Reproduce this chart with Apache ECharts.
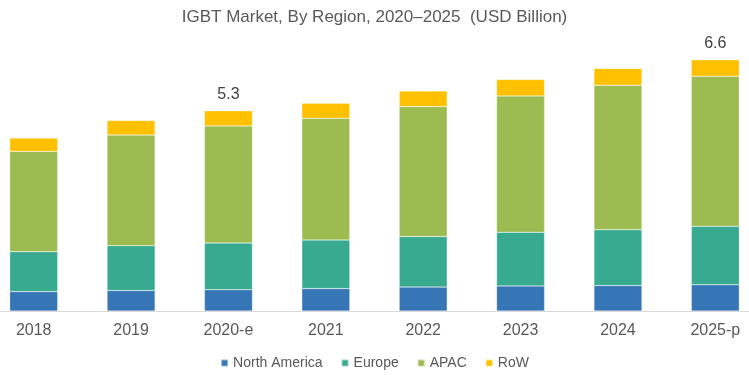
<!DOCTYPE html>
<html>
<head>
<meta charset="utf-8">
<script src="https://cdn.jsdelivr.net/npm/echarts@6/dist/echarts.min.js"></script>
<style>
  html, body { margin: 0; padding: 0; background: #fff; overflow: hidden; }
  /* chart is a bit wider than the window so the outer bars sit near the edges */
  #chart { width: 779px; height: 375px; margin-left: -15px; }
</style>
</head>
<body>
<div id="chart"></div>
<script>
const years = ['2018', '2019', '2020-e', '2021', '2022', '2023', '2024', '2025-p']
const northAmerica = [0.51, 0.54, 0.56, 0.59, 0.63, 0.66, 0.67, 0.69]
const europe = [1.05, 1.18, 1.23, 1.28, 1.33, 1.41, 1.47, 1.54]
const apac = [2.64, 2.91, 3.08, 3.20, 3.42, 3.59, 3.80, 3.95]
const row = [0.35, 0.38, 0.40, 0.40, 0.41, 0.43, 0.44, 0.43]
const totalLabels = ['', '', '5.3', '', '', '', '', '6.6']

const chart = echarts.init(document.getElementById('chart'))

// shared look for every stacked segment
function seg(name, data, color) {
  return {
    name: name,
    type: 'bar',
    stack: 'total',
    data: data,
    barWidth: 48,
    itemStyle: {
      color: color,
      borderColor: 'rgba(255,255,255,0.5)',
      borderWidth: 0.5
    }
  }
}

const rowSeries = seg('RoW', row, '#FFC000')
rowSeries.label = {
  show: true,
  position: 'top',
  distance: 8,
  fontFamily: 'Liberation Sans',
  fontSize: 16,
  color: '#404040',
  formatter(p) {
    return totalLabels[p.dataIndex]
  }
}

chart.setOption({
  animation: false,
  title: {
    text: 'IGBT Market, By Region, 2020–2025  (USD Billion)',
    left: 'center',
    top: 4,
    textStyle: {
      fontFamily: 'Liberation Sans',
      fontSize: 17,
      fontWeight: 'normal',
      color: '#595959'
    }
  },
  legend: {
    top: 351,
    left: 'center',
    icon: 'rect',
    itemWidth: 7,
    itemHeight: 7,
    itemGap: 18,
    textStyle: {
      fontFamily: 'Liberation Sans',
      fontSize: 14,
      color: '#595959'
    },
    data: ['North America', 'Europe', 'APAC', 'RoW']
  },
  grid: {
    left: 0,
    right: 0,
    top: 45,
    bottom: 64
  },
  xAxis: {
    type: 'category',
    data: years,
    axisLine: {
      lineStyle: { color: '#d9d9d9' }
    },
    axisTick: {
      length: 5,
      lineStyle: { color: '#d9d9d9' }
    },
    axisLabel: {
      margin: 12,
      fontFamily: 'Liberation Sans',
      fontSize: 16,
      color: '#595959'
    }
  },
  yAxis: {
    type: 'value',
    min: 0,
    max: 7,
    show: false,
    splitLine: { show: false }
  },
  series: [
    seg('North America', northAmerica, '#3675B6'),
    seg('Europe', europe, '#38AA90'),
    seg('APAC', apac, '#9CBB51'),
    rowSeries
  ]
})
</script>
</body>
</html>
